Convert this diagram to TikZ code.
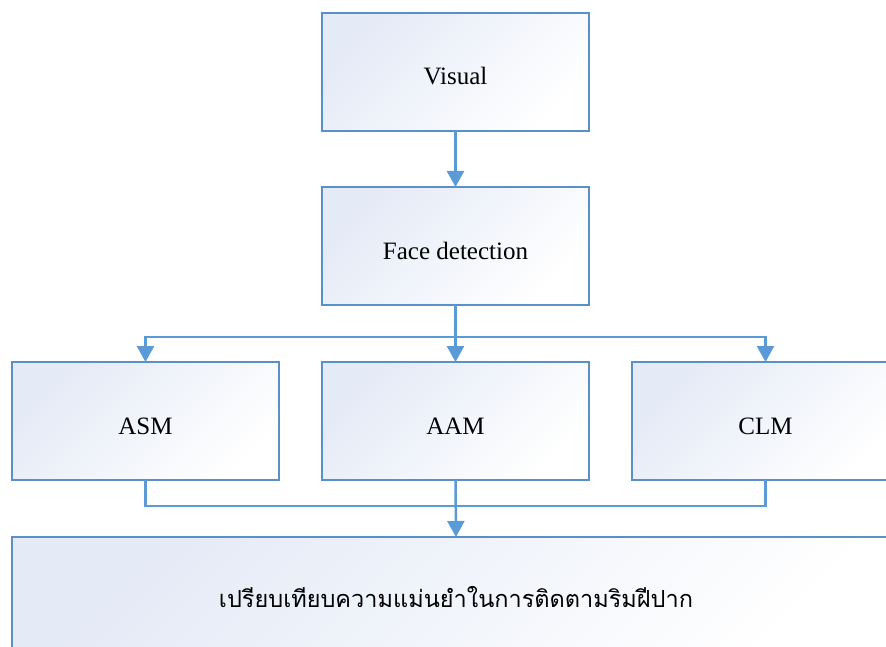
\documentclass[tikz,border=0pt]{standalone}
\usepackage{fontspec}
\setmainfont{Liberation Serif}
\newfontfamily\thaifont[Script=Thai]{Loma}
\usetikzlibrary{arrows.meta}
\definecolor{boxline}{RGB}{91,143,201}
\definecolor{connline}{RGB}{91,155,213}
\definecolor{gradblue}{RGB}{228,234,246}
\tikzset{
  box/.style={draw=boxline, line width=2pt, top color=gradblue, bottom color=white,
    shading angle=45, minimum width=267pt, minimum height=118pt, inner sep=0pt,
    outer sep=0pt, text height=26pt, text depth=0pt, font=\fontsize{25}{30}\selectfont},
  link/.style={draw=connline, line width=2.5pt},
  conn/.style={link, -{Triangle[width=17pt,length=16pt]}}
}
\begin{document}
\begin{tikzpicture}[x=1pt,y=-1pt]
\useasboundingbox (0,0) rectangle (886,647);
\clip (0,0) rectangle (886,647);
\node[box] (vis) at (455.5,72) {Visual};
\node[box] (face) at (455.5,246) {Face detection};
\node[box] (asm) at (145.5,421) {ASM};
\node[box] (aam) at (455.5,421) {AAM};
\node[box] (clm) at (765.5,421) {CLM};
\node[box, minimum width=888pt, minimum height=126pt, text height=14pt] (bot) at (456,600)
  {{\thaifont\fontsize{23.5}{28}\selectfont เปรียบเทียบความแม่นยำในการติดตามริมฝีปาก}};
\coordinate (br) at (0,337);
\coordinate (mg) at (0,506);
\draw[conn] (vis) -- (face);
\draw[conn] (face.south) -- (aam.north);
\draw[conn] (face.south |- br) -| (asm.north);
\draw[conn] (face.south |- br) -| (clm.north);
\draw[link] (asm.south) -- (asm.south |- mg) -- (clm.south |- mg) -- (clm.south);
\draw[conn] (aam.south) -- (bot.north);
\end{tikzpicture}
\end{document}
